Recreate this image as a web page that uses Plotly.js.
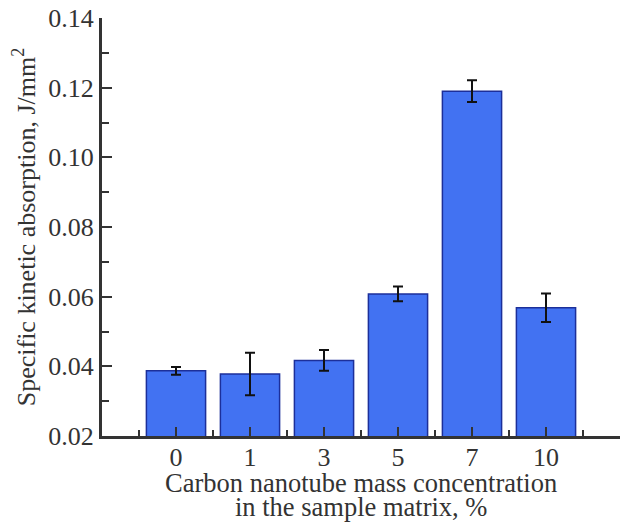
<!DOCTYPE html>
<html>
<head>
<meta charset="utf-8">
<script src="https://cdn.plot.ly/plotly-3.0.1.min.js"></script>
<style>html,body{margin:0;padding:0;background:#fff;}#chart{width:629px;height:524px;}</style>
</head>
<body>
<div id="chart"></div>
<script>
const categories = ["0", "1", "3", "5", "7", "10"];
const values = [0.0387, 0.0378, 0.0417, 0.0608, 0.1190, 0.0568];
const errors = [0.0011, 0.0061, 0.0030, 0.0021, 0.0031, 0.0041];
const yTickVals = [0.02, 0.04, 0.06, 0.08, 0.10, 0.12, 0.14];
const yTickText = ["0.02", "0.04", "0.06", "0.08", "0.10", "0.12", "0.14"];
const xTitleLines = ["Carbon nanotube mass concentration", "in the sample matrix, %"];
const yTitle = "Specific kinetic absorption, J/mm<sup>2</sup>";

const positions = categories.map((c, i) => i);
const font = {family: "Liberation Serif, Times New Roman, serif", color: "#333333"};
const f = s => Object.assign({size: s}, font);

const trace = {
  type: "bar",
  x: positions,
  y: values,
  width: 0.8,
  marker: {color: "#4272f2", line: {color: "#1c2f9a", width: 1.5}},
  error_y: {type: "data", array: errors, visible: true, color: "#111111", thickness: 2, width: 5},
  hoverinfo: "none"
};

const layout = {
  width: 629, height: 524,
  margin: {l: 102, r: 9, t: 18, b: 88},
  paper_bgcolor: "#ffffff", plot_bgcolor: "#ffffff",
  showlegend: false,
  font: f(26),
  xaxis: {
    range: [-1, 6],
    tickvals: positions,
    ticktext: categories,
    ticks: "inside", ticklen: 9, tickwidth: 2, tickcolor: "#333333",
    minor: {tick0: 0.5, dtick: 1, ticks: "inside", ticklen: 6, tickwidth: 2, tickcolor: "#333333"},
    showline: true, linecolor: "#333333", linewidth: 3,
    showgrid: false, zeroline: false,
    ticklabelstandoff: -4,
    tickfont: f(26)
  },
  yaxis: {
    range: [0.02, 0.14],
    tickvals: yTickVals,
    ticktext: yTickText,
    ticks: "inside", ticklen: 10, tickwidth: 2, tickcolor: "#333333",
    minor: {tick0: 0.01, dtick: 0.02, ticks: "inside", ticklen: 7, tickwidth: 2, tickcolor: "#333333"},
    showline: true, linecolor: "#333333", linewidth: 3,
    showgrid: false, zeroline: false,
    tickfont: f(26),
    automargin: false,
    title: {text: yTitle, font: f(26), standoff: 6}
  },
  annotations: [
    {text: xTitleLines[0], xref: "paper", yref: "paper", x: 0.5, y: -0.113, xanchor: "center", yanchor: "middle", showarrow: false, font: f(26.5)},
    {text: xTitleLines[1], xref: "paper", yref: "paper", x: 0.5, y: -0.171, xanchor: "center", yanchor: "middle", showarrow: false, font: f(26.5)}
  ]
};

Plotly.newPlot("chart", [trace], layout, {staticPlot: true, displayModeBar: false});
</script>
</body>
</html>
